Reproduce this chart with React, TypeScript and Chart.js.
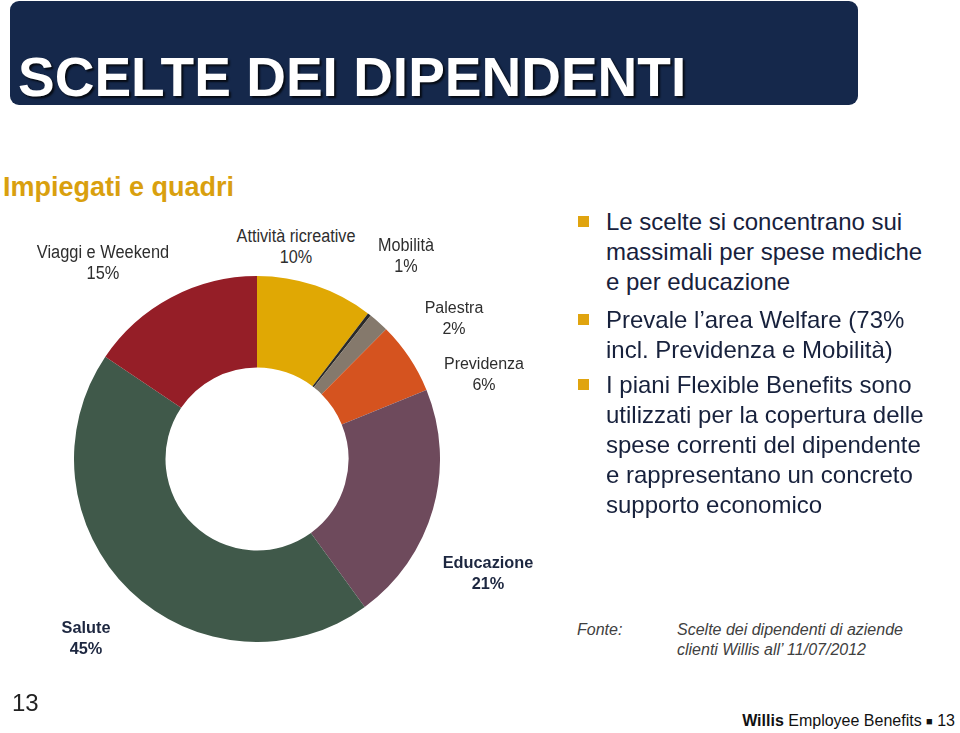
import React, { useEffect, useRef } from "react";
import { Chart, registerables } from "chart.js";

Chart.register(...registerables);

const categories = [
  "Attività ricreative",
  "Mobilità",
  "Palestra",
  "Previdenza",
  "Educazione",
  "Salute",
  "Viaggi e Weekend",
];
const values = [10.4, 0.3, 1.8, 6.4, 21.2, 44.6, 15.6];
const percentLabels = ["10%", "1%", "2%", "6%", "21%", "45%", "15%"];
const sliceColors = ["#E0A804", "#2A2A2A", "#85796C", "#D5531F", "#6E4A5C", "#40594A", "#951E27"];

const bullets = [
  ["Le scelte si concentrano sui", "massimali per spese mediche", "e per educazione"],
  ["Prevale l\u2019area Welfare (73%", "incl. Previdenza e Mobilità)"],
  [
    "I piani Flexible Benefits sono",
    "utilizzati per la copertura delle",
    "spese correnti del dipendente",
    "e rappresentano un concreto",
    "supporto economico",
  ],
];

// label layout: [centerX, centerY of first line, bold, fontSize, scaleX]
const labelLayout: [number, number, boolean, number, number][] = [
  [296, 236, false, 18, 0.9],
  [406, 245, false, 18, 0.9],
  [454, 307, false, 16, 1],
  [484, 363, false, 16, 1],
  [488, 562, true, 17, 0.96],
  [86, 627, true, 17, 0.96],
  [103, 252, false, 18, 0.91],
];

const FONT = "'Liberation Sans', Arial, Helvetica, sans-serif";

export default function App() {
  const ref = useRef<HTMLCanvasElement>(null);

  useEffect(() => {
    if (!ref.current) return;
    const chart = new Chart(ref.current, {
      type: "doughnut",
      data: {
        labels: categories,
        datasets: [
          {
            data: values,
            backgroundColor: sliceColors,
            borderWidth: 0,
          },
        ],
      },
      options: {
        responsive: false,
        animation: false,
        cutout: "50%",
        rotation: 0,
        layout: { padding: 0 },
        plugins: { legend: { display: false }, tooltip: { enabled: false } },
      },
    });
    return () => chart.destroy();
  }, []);

  const abs = (s: React.CSSProperties): React.CSSProperties => ({ position: "absolute", ...s });

  return (
    <div
      style={{
        position: "absolute",
        left: 0,
        top: 0,
        width: 960,
        height: 733,
        background: "#ffffff",
        overflow: "hidden",
        fontFamily: FONT,
      }}
    >
      <div
        style={abs({
          left: 10,
          top: 1,
          width: 848,
          height: 104,
          background: "#15284B",
          borderRadius: 9,
        })}
      />
      <div
        style={abs({
          left: 18,
          top: 50,
          fontSize: 55,
          lineHeight: "55px",
          fontWeight: "bold",
          color: "#ffffff",
          whiteSpace: "nowrap",
          textShadow: "2px 2px 2px rgba(0,0,0,0.75)",
        })}
      >
        SCELTE DEI DIPENDENTI
      </div>
      <div
        style={abs({
          left: 3,
          top: 187 - 16,
          fontSize: 27,
          lineHeight: "32px",
          fontWeight: "bold",
          color: "#D9A00E",
          whiteSpace: "nowrap",
        })}
      >
        Impiegati e quadri
      </div>

      <canvas ref={ref} width={366} height={366} style={abs({ left: 74, top: 276, width: 366, height: 366 })} />

      {categories.map((c, i) => {
        const [x, y, bold, fs, sx] = labelLayout[i];
        return (
          <div
            key={c}
            style={abs({
              left: x - 100,
              top: y - 10.5,
              width: 200,
              textAlign: "center",
              fontSize: fs,
              lineHeight: "21.5px",
              fontWeight: bold ? "bold" : "normal",
              color: bold ? "#1D2740" : "#2E2E2E",
              whiteSpace: "nowrap",
              transform: `scaleX(${sx})`,
            })}
          >
            {c}
            <br />
            {percentLabels[i]}
          </div>
        );
      })}

      {bullets.map((lines, i) => {
        const tops = [207, 305, 370];
        return (
          <React.Fragment key={i}>
            <div
              style={abs({
                left: 578,
                top: tops[i] + 9,
                width: 11,
                height: 11,
                background: "#E0A40F",
              })}
            />
            <div
              style={abs({
                left: 606,
                top: tops[i],
                fontSize: 24,
                lineHeight: "30px",
                color: "#17213C",
                whiteSpace: "nowrap",
              })}
            >
              {lines.map((l, j) => (
                <React.Fragment key={j}>
                  {l}
                  {j < lines.length - 1 ? <br /> : null}
                </React.Fragment>
              ))}
            </div>
          </React.Fragment>
        );
      })}

      <div
        style={abs({
          left: 577,
          top: 620,
          fontSize: 16,
          lineHeight: "20px",
          fontStyle: "italic",
          color: "#404040",
        })}
      >
        Fonte:
      </div>
      <div
        style={abs({
          left: 677,
          top: 620,
          fontSize: 16,
          lineHeight: "20px",
          fontStyle: "italic",
          color: "#404040",
          whiteSpace: "nowrap",
        })}
      >
        Scelte dei dipendenti di aziende
        <br />
        clienti Willis all&rsquo; 11/07/2012
      </div>

      <div style={abs({ left: 12, top: 689, fontSize: 24, lineHeight: "28px", color: "#222" })}>13</div>
      <div
        style={abs({
          right: 5,
          top: 711,
          fontSize: 16,
          lineHeight: "20px",
          color: "#111",
          whiteSpace: "nowrap",
        })}
      >
        <b>Willis</b> Employee Benefits <span style={{ fontSize: 11, verticalAlign: "1px" }}>■</span> 13
      </div>
    </div>
  );
}
